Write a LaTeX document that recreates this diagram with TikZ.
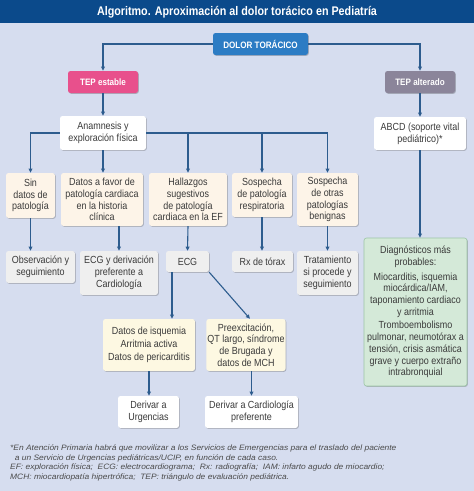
\documentclass[tikz,border=0pt]{standalone}
\usepackage{fontspec}
\setmainfont{Liberation Sans}[FakeStretch=0.87]
\newfontfamily\titlefont{Liberation Sans}[FakeStretch=0.86]
\newfontfamily\footfont{Liberation Sans}[FakeStretch=1.08]
\usetikzlibrary{arrows.meta,shadows,calc}
\definecolor{bgc}{HTML}{D6DDEF}
\definecolor{titlec}{HTML}{0B4A8B}
\definecolor{dolorc}{HTML}{2C7CC4}
\definecolor{pinkc}{HTML}{E8508C}
\definecolor{grayc}{HTML}{8B859A}
\definecolor{creamc}{HTML}{FDF4E8}
\definecolor{lgrayc}{HTML}{EFEFEF}
\definecolor{yellc}{HTML}{FDF8E2}
\definecolor{greenc}{HTML}{D4E9D8}
\definecolor{greenb}{HTML}{9CC6A5}
\definecolor{linec}{HTML}{2D5C8E}
\definecolor{txtc}{HTML}{3A3A3A}
\definecolor{footc}{HTML}{4A4A4A}
\begin{document}
\begin{tikzpicture}[x=1pt,y=-1pt,
  basebox/.style={rounded corners=2.5pt, inner sep=1pt, align=center, text=txtc,
    font=\fontsize{10.3}{11.8}\selectfont,
    drop shadow={shadow xshift=0.8pt, shadow yshift=-0.8pt, opacity=0.22, fill=black}},
  whitebox/.style={basebox, fill=white},
  creambox/.style={basebox, fill=creamc},
  graybox/.style={basebox, fill=lgrayc},
  yellbox/.style={basebox, fill=yellc},
  greenbox/.style={basebox, fill=greenc, draw=greenb, line width=0.6pt},
  headbox/.style={rounded corners=2.5pt, inner sep=1pt, align=center, text=white,
    font=\fontsize{9.3}{10}\selectfont\bfseries,
    drop shadow={shadow xshift=0.8pt, shadow yshift=-0.8pt, opacity=0.22, fill=black}},
  conn/.style={draw=linec, line width=1.1pt},
  arr/.style={conn, -{Triangle[length=4.2pt,width=3.8pt]}}
]
\useasboundingbox (0,0) rectangle (474,491);
\fill[bgc] (0,0) rectangle (474,491);
\fill[titlec] (0,0) rectangle (474,23);
\node[text=white, font=\titlefont\fontsize{12.5}{14}\selectfont\bfseries] (title) at (237,12) {Algoritmo. Aproximación al dolor torácico en Pediatría};

\node[headbox, fill=dolorc, minimum width=95, minimum height=22] (dolor) at (260.5,44) {DOLOR TORÁCICO};
\node[headbox, fill=pinkc, minimum width=70, minimum height=22] (tepE) at (103,82) {TEP estable};
\node[headbox, fill=grayc, minimum width=70, minimum height=22] (tepA) at (420,82) {TEP alterado};

\node[whitebox, minimum width=86, minimum height=34] (anam) at (103,133) {Anamnesis y\\exploración física};
\node[whitebox, minimum width=92, minimum height=33] (abcd) at (420,133.5) {ABCD (soporte vital\\pediátrico)*};

\node[creambox, minimum width=49, minimum height=45] (sin) at (30.5,195.5) {Sin\\datos de\\patología};
\node[creambox, minimum width=82, minimum height=53] (favor) at (102,199.5) {Datos a favor de\\patología cardiaca\\en la historia\\clínica};
\node[creambox, minimum width=78, minimum height=53] (hall) at (188,199.5) {Hallazgos\\sugestivos\\de patología\\cardiaca en la EF};
\node[creambox, minimum width=60, minimum height=44] (resp) at (262,195) {Sospecha\\de patología\\respiratoria};
\node[creambox, minimum width=61, minimum height=53] (otras) at (327.5,199.5) {Sospecha\\de otras\\patologías\\benignas};

\node[graybox, minimum width=69, minimum height=32] (obs) at (40.5,267) {Observación y\\seguimiento};
\node[graybox, minimum width=78, minimum height=44] (ecgder) at (119,273) {ECG y derivación\\preferente a\\Cardiología};
\node[graybox, minimum width=43, minimum height=21] (ecg) at (187.5,261.5) {ECG};
\node[graybox, minimum width=61, minimum height=21] (rx) at (262.5,261.5) {Rx de tórax};
\node[graybox, minimum width=61, minimum height=44] (trat) at (327.5,273) {Tratamiento\\si procede y\\seguimiento};

\node[greenbox, minimum width=103, minimum height=148] (diag) at (415.5,312) {Diagnósticos más\\probables:\\[3pt]Miocarditis, isquemia\\miocárdica/IAM,\\taponamiento cardiaco\\y arritmia\\[1.5pt]Tromboembolismo\\pulmonar, neumotórax a\\tensión, crisis asmática\\grave y cuerpo extraño\\intrabronquial};

\node[yellbox, minimum width=92, minimum height=52] (isq) at (149,345) {Datos de isquemia\\[1.5pt]Arritmia activa\\[1.5pt]Datos de pericarditis};
\node[yellbox, minimum width=76, minimum height=52] (pre) at (246,345) {Preexcitación,\\QT largo, síndrome\\de Brugada y\\datos de MCH};

\node[whitebox, minimum width=61, minimum height=32] (urg) at (148.5,412) {Derivar a\\Urgencias};
\node[whitebox, minimum width=93, minimum height=32] (card) at (251.5,412) {Derivar a Cardiología\\preferente};

\node[anchor=north west, align=left, inner sep=0pt, text=footc,
  font=\footfont\fontsize{7.8}{9.4}\selectfont\itshape] (foot) at (10,445)
  {*En Atención Primaria habrá que movilizar a los Servicios de Emergencias para el traslado del paciente\\
  \ \ a un Servicio de Urgencias pediátricas/UCIP, en función de cada caso.\\
  EF: exploración física; \ ECG: electrocardiograma; \ Rx: radiografía; \ IAM: infarto agudo de miocardio;\\
  MCH: miocardiopatía hipertrófica; \ TEP: triángulo de evaluación pediátrica.};

% connectors
\draw[arr] (dolor.west) -| (tepE.north);
\draw[arr] (dolor.east) -| (tepA.north);
\draw[arr] (tepE.south) -- (anam.north);
\draw[arr] (tepA.south) -- (abcd.north);
\draw[arr] (anam.west) -| (sin.north);
\draw[arr] (anam.south) -- (anam.south |- favor.north);
\draw[arr] (anam.east) -| (otras.north);
\draw[arr] (anam.east -| hall.north) -- (hall.north);
\draw[arr] (anam.east -| resp.north) -- (resp.north);
\draw[arr] (abcd.south) -- (abcd.south |- diag.north);
\draw[arr] (sin.south) -- (sin.south |- obs.north);
\draw[arr] (ecgder.north |- favor.south) -- (ecgder.north);
\draw[arr] (hall.south) -- (ecg.north);
\draw[arr] (resp.south) -- (resp.south |- rx.north);
\draw[arr] (otras.south) -- (trat.north);
\coordinate (e1) at ($(ecg.south)+(-15.5,0)$);
\draw[arr] (e1) -- (e1 |- isq.north);
\draw[arr] (ecg.south east) -- ($(pre.north)+(4,0)$);
\draw[arr] (isq.south) -- (isq.south |- urg.north);
\draw[arr] (card.north |- pre.south) -- (card.north);
\end{tikzpicture}
\end{document}
